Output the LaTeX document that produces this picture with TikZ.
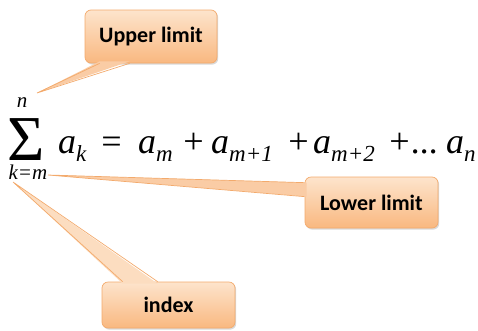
\documentclass[tikz,border=0pt]{standalone}
\usepackage{fontspec}
\usepackage{tikz}
\usetikzlibrary{positioning,calc,shadows}
\newfontfamily\calfont{Carlito}
\newfontfamily\eqfont{Liberation Serif}
\definecolor{peachtop}{RGB}{253,228,204}
\definecolor{peachbot}{RGB}{249,184,128}
\definecolor{peachmid}{RGB}{250,204,165}
\definecolor{peachline}{RGB}{243,170,108}
\newcommand{\subsc}[1]{\raisebox{-8pt}{\fontsize{23}{23}\selectfont #1}}
\tikzset{
  callbox/.style={rectangle,rounded corners=6pt,draw=peachline,line width=0.7pt,
    top color=peachtop,bottom color=peachbot,inner sep=0pt,
    font=\calfont\bfseries\fontsize{22}{24}\selectfont,
    drop shadow={shadow xshift=1.2pt,shadow yshift=-1.6pt,opacity=0.25,fill=black!60}},
  wedgefill/.style={fill=#1},
  wedgeline/.style={draw=peachline,line width=0.7pt,line join=miter},
  eqt/.style={anchor=base west,inner sep=0pt,
    font=\eqfont\itshape\fontsize{36}{38}\selectfont},
  lim/.style={anchor=base,inner sep=0pt,font=\eqfont\itshape\fontsize{21}{22}\selectfont},
}
\begin{document}
\begin{tikzpicture}[x=1pt,y=-1pt]
  \useasboundingbox (0,0) rectangle (478,330);
  % the sum and its limits
  \node[anchor=base,inner sep=0pt,text depth=0pt,font=\eqfont\fontsize{64}{64}\selectfont] (sig) at (26,160) {Σ};
  \node[lim] (upn) at (22,107) {n};
  \node[lim] (lowkm) at (28,179) {k=m};
  % the expansion
  \node[eqt] (ak) at (58,153) {a\subsc{k}};
  \node[eqt] (eq) at (99,153) {=};
  \node[eqt] (am) at (138,153) {a\subsc{m}};
  \node[eqt] (p1) at (181,153) {+};
  \node[eqt] (am1) at (211,153) {a\subsc{m+1}};
  \node[eqt] (p2) at (286,153) {+};
  \node[eqt] (am2) at (313,153) {a\subsc{m+2}};
  \node[eqt] (p3) at (387,153) {+...};
  \node[eqt] (an) at (446,153) {a\subsc{n}};
  % callouts
  \node[callbox,minimum width=132pt,minimum height=53pt] (upper) at (151,36.5) {Upper limit};
  \node[callbox,minimum width=133pt,minimum height=51pt] (lower) at (371.5,202.5) {Lower limit};
  \node[callbox,minimum width=133pt,minimum height=46pt] (index) at (168.5,305) {index};
  \coordinate (uptip) at (37,93);
  \coordinate (lowtip) at (48,175);
  \coordinate (idxtip) at (13,182);
  % pointers
  \fill[wedgefill=peachmid] ([xshift=15pt,yshift=2pt]upper.south west) -- (uptip)
    -- ([xshift=45pt,yshift=2pt]upper.south west) -- cycle;
  \draw[wedgeline] ([xshift=15pt]upper.south west) -- (uptip) -- ([xshift=45pt]upper.south west);
  \fill[wedgefill=peachmid] ([xshift=2pt,yshift=-6pt]lower.north west) -- (lowtip)
    -- ([xshift=2pt,yshift=-20pt]lower.north west) -- cycle;
  \draw[wedgeline] ([yshift=-6pt]lower.north west) -- (lowtip) -- ([yshift=-20pt]lower.north west);
  \fill[wedgefill=peachtop!70!peachmid] ([xshift=21pt,yshift=-2pt]index.north west) -- (idxtip)
    -- ([xshift=56pt,yshift=-2pt]index.north west) -- cycle;
  \draw[wedgeline] ([xshift=21pt]index.north west) -- (idxtip) -- ([xshift=56pt]index.north west);
\end{tikzpicture}
\end{document}
